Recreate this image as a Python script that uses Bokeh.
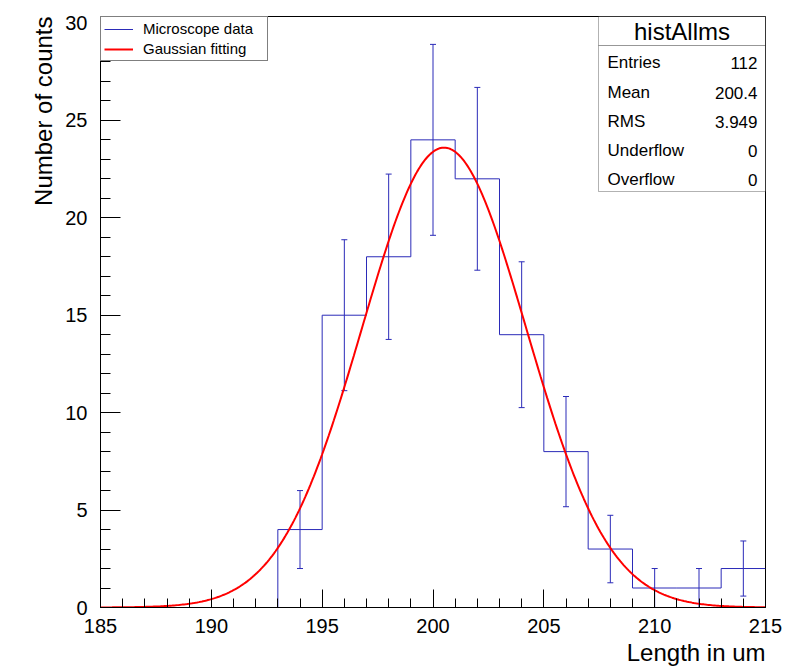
import numpy as np
from bokeh.plotting import figure
from bokeh.models import (Range1d, FixedTicker, Label, BoxAnnotation, Legend, LegendItem,
                          Whisker, ColumnDataSource, TeeHead, Title)
from bokeh.embed import file_html
from bokeh.resources import INLINE

# ---------------- data ----------------
bin_edges = [185, 187, 189, 191, 193, 195, 197, 199, 201, 203, 205, 207, 209, 211, 213, 215]
counts = [0, 0, 0, 0, 4, 15, 18, 24, 22, 14, 8, 3, 1, 1, 2]

# Gaussian fit parameters
fit_amplitude = 23.6
fit_mean = 200.5
fit_sigma = 3.71

x_ticks = [185, 190, 195, 200, 205, 210, 215]
y_ticks = [0, 5, 10, 15, 20, 25, 30]

stat_title = "histAllms"
stat_names = ["Entries", "Mean", "RMS", "Underflow", "Overflow"]
stat_values = ["112", "200.4", "3.949", "0", "0"]

x_title = "Length in um"
y_title = "Number of counts"
legend_labels = ["Microscope data", "Gaussian fitting"]

# ---------------- figure ----------------
FONT = "Liberation Sans"
W, H = 804, 672
fl, ft, fr, fb = 100, 16, 765, 607  # frame in canvas px

p = figure(width=W, height=H, output_backend="svg", toolbar_location=None,
           x_range=Range1d(185, 215), y_range=Range1d(0, 30.33),
           min_border_left=fl, min_border_top=ft, min_border_right=W - fr,
           min_border_bottom=H - fb)
p.background_fill_color = "white"
p.border_fill_color = "white"
p.outline_line_color = "black"
p.outline_line_width = 1
p.grid.visible = False

hist_color = "#2b2bb8"

centers = [(bin_edges[i] + bin_edges[i + 1]) / 2 for i in range(len(counts))]
step_y = counts + [counts[-1]]
r_hist = p.step(x=bin_edges, y=step_y, mode="after", line_color=hist_color, line_width=1)

err_src = ColumnDataSource(dict(
    x=[c for c, n in zip(centers, counts) if n > 0],
    lo=[n - np.sqrt(n) for n in counts if n > 0],
    hi=[n + np.sqrt(n) for n in counts if n > 0],
))
wh = Whisker(base="x", lower="lo", upper="hi", source=err_src, dimension="height",
             line_color=hist_color, line_width=1,
             upper_head=TeeHead(size=6, line_color=hist_color, line_width=1),
             lower_head=TeeHead(size=6, line_color=hist_color, line_width=1))
p.add_layout(wh)

xf = np.linspace(185, 215, 400)
yf = fit_amplitude * np.exp(-0.5 * ((xf - fit_mean) / fit_sigma) ** 2)
r_fit = p.line(xf, yf, line_color="#ff0000", line_width=2)

# ---------------- axes ----------------
for ax in (p.xaxis[0], p.yaxis[0]):
    ax.axis_line_color = "black"
    ax.major_tick_line_color = "black"
    ax.minor_tick_line_color = "black"
    ax.major_tick_out = 0
    ax.minor_tick_out = 0
    ax.major_label_text_font = FONT
    ax.major_label_text_font_size = "20px"
    ax.major_label_text_color = "black"

p.xaxis.ticker = FixedTicker(ticks=x_ticks, minor_ticks=list(range(185, 216)))
p.xaxis.major_tick_in = 18
p.xaxis.minor_tick_in = 9
p.xaxis.major_label_standoff = 11

p.yaxis.ticker = FixedTicker(ticks=y_ticks, minor_ticks=list(range(0, 31)))
p.yaxis.major_tick_in = 20
p.yaxis.minor_tick_in = 10
p.yaxis.major_label_standoff = 13

# axis titles (ROOT style: at the end of the axis), placed in side panels
p.add_layout(Title(text=x_title, align="right", vertical_align="bottom",
                   text_font=FONT, text_font_size="24px", text_font_style="normal",
                   text_color="black", standoff=2, offset=0), "below")
p.add_layout(Title(text=y_title, align="right", vertical_align="bottom",
                   text_font=FONT, text_font_size="24px", text_font_style="normal",
                   text_color="black", standoff=12, offset=0), "left")

# ---------------- legend ----------------
legend = Legend(items=[LegendItem(label=legend_labels[0], renderers=[r_hist]),
                       LegendItem(label=legend_labels[1], renderers=[r_fit])],
                location="top_left", margin=0, padding=3, spacing=3,
                glyph_width=29, glyph_height=14, label_height=14, label_width=121,
                label_standoff=10, label_text_font=FONT, label_text_font_size="15px",
                label_text_color="black", border_line_color="black", border_line_width=1,
                background_fill_color="white", background_fill_alpha=1.0)
p.add_layout(legend)

# ---------------- stats box ----------------
fh = fb - ft
bx_l, bx_r = 498, 665
title_top, title_bot, box_bot = fh, fh - 29, fh - 175
p.add_layout(BoxAnnotation(left=bx_l, right=bx_r, top=title_top, bottom=title_bot,
                           left_units="screen", right_units="screen",
                           top_units="screen", bottom_units="screen",
                           fill_color="white", fill_alpha=1, line_color="black", line_width=1))
p.add_layout(BoxAnnotation(left=bx_l, right=bx_r, top=title_bot, bottom=box_bot,
                           left_units="screen", right_units="screen",
                           top_units="screen", bottom_units="screen",
                           fill_color="white", fill_alpha=1, line_color="black", line_width=1))
p.add_layout(Label(x=(bx_l + bx_r) / 2, y=(title_top + title_bot) / 2,
                   x_units="screen", y_units="screen", text=stat_title,
                   text_align="center", text_baseline="middle",
                   text_font=FONT, text_font_size="24px", text_color="black"))
row_y = [fh - 46, fh - 76, fh - 105, fh - 134, fh - 163]
for name, val, yy in zip(stat_names, stat_values, row_y):
    p.add_layout(Label(x=bx_l + 9, y=yy, x_units="screen", y_units="screen", text=name,
                       text_align="left", text_baseline="middle",
                       text_font=FONT, text_font_size="17px", text_color="black"))
    p.add_layout(Label(x=bx_r - 8, y=yy, x_units="screen", y_units="screen", text=val,
                       text_align="right", text_baseline="middle",
                       text_font=FONT, text_font_size="17px", text_color="black"))

open("out.html", "w").write(file_html(p, INLINE))
